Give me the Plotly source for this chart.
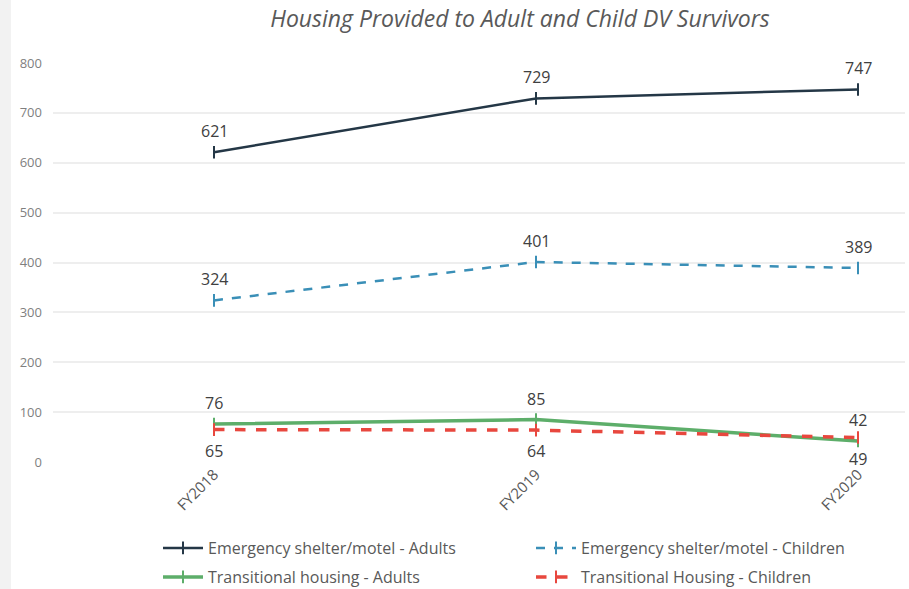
import plotly.graph_objects as go

categories = ["FY2018", "FY2019", "FY2020"]
series_names = [
    "Emergency shelter/motel - Adults",
    "Emergency shelter/motel - Children",
    "Transitional housing - Adults",
    "Transitional Housing - Children",
]
es_adults = [621, 729, 747]
es_children = [324, 401, 389]
th_adults = [76, 85, 42]
th_children = [65, 64, 49]
y_ticks = [0, 100, 200, 300, 400, 500, 600, 700, 800]

W, H = 909, 589
L, R, T, B = 53, 4, 63, 127
plot_w = W - L - R
plot_h = H - T - B

series = [
    (series_names[0], es_adults, "#243746", "solid", 2.5, 1, "legend", "above"),
    (series_names[1], es_children, "#3A8FB7", "dash", 2.5, 1, "legend", "above"),
    (series_names[2], th_adults, "#4CA65A", "solid", 3.5, 0.9, "legend2", "above"),
    (series_names[3], th_children, "#E8473E", "dash", 3.5, 1, "legend2", "below"),
]

xs = list(range(len(categories)))
fig = go.Figure()
annotations = []
for name, vals, color, dash, width, op, leg, pos in series:
    fig.add_trace(go.Scatter(
        x=xs, y=vals, name=name, mode="lines+markers",
        line=dict(color=color, width=width, dash=dash),
        marker=dict(symbol="line-ns-open", size=9, line=dict(color=color, width=2), color=color),
        opacity=op, legend=leg,
    ))
    for xi, v in zip(xs, vals):
        annotations.append(dict(
            x=xi, y=v, xref="x", yref="y", text=str(v), showarrow=False,
            yshift=21 if pos == "above" else -21,
            font=dict(family="Open Sans", size=16, color="#404040"),
        ))

legend_common = dict(
    orientation="h", xanchor="left", yanchor="middle", yref="container", xref="container",
    entrywidth=318, entrywidthmode="pixels",
    font=dict(family="Open Sans", size=16, color="#595959"),
    itemwidth=40, bgcolor="rgba(0,0,0,0)",
)

fig.update_layout(
    width=W, height=H,
    margin=dict(l=L, r=R, t=T, b=B, autoexpand=False),
    paper_bgcolor="white", plot_bgcolor="white",
    title=dict(
        text="<i>Housing Provided to Adult and Child DV Survivors</i>",
        x=520 / W, xanchor="center", xref="container",
        y=1 - 19 / H, yanchor="middle", yref="container",
        font=dict(family="Open Sans", size=23, color="#595959"),
    ),
    xaxis=dict(
        range=[-0.5, -0.5 + plot_w / 322], tickvals=xs, ticktext=categories,
        tickangle=-45, showgrid=False, zeroline=False, showline=False,
        tickfont=dict(family="Open Sans", size=15, color="#595959"),
        automargin=False,
    ),
    yaxis=dict(
        range=[0, 800], tickvals=y_ticks, showgrid=True, gridcolor="#EEEEEE",
        gridwidth=1.5, zeroline=False, showline=False,
        tickfont=dict(family="Open Sans", size=13, color="#7F7F7F"),
        ticklabelstandoff=10, automargin=False,
    ),
    legend=dict(legend_common, x=158 / W, y=1 - 548 / H),
    legend2=dict(legend_common, x=158 / W, y=1 - 577 / H),
    annotations=annotations,
    shapes=[dict(
        type="rect", xref="paper", yref="paper",
        x0=(0 - L) / plot_w, x1=(11 - L) / plot_w,
        y0=-B / plot_h, y1=1 + T / plot_h,
        fillcolor="#F2F2F2", line=dict(width=0), layer="below",
    )],
)

fig.write_html("out.html")
